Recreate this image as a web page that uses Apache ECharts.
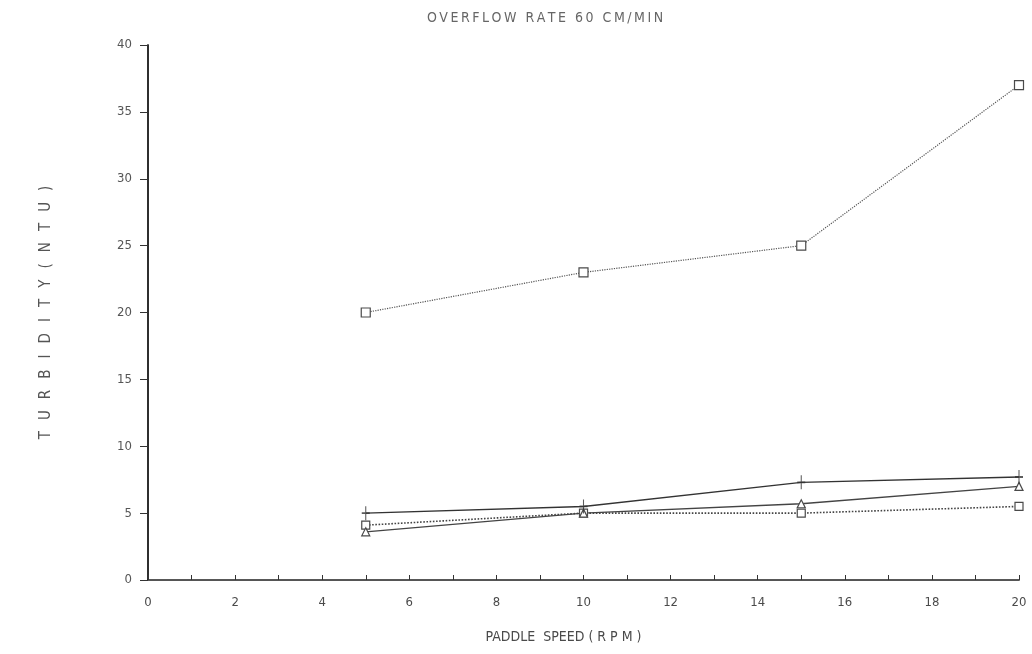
<!DOCTYPE html>
<html>
<head>
<meta charset="utf-8">
<script src="https://cdn.jsdelivr.net/npm/echarts@6/dist/echarts.min.js"></script>
<style>
  html, body { margin: 0; padding: 0; background: #fff; }
  #chart { width: 1032px; height: 654px; }
</style>
</head>
<body>
<div id="chart"></div>
<script>
// Paddle speed (rpm) at which turbidity was measured
const paddleSpeed = [5, 10, 15, 20];

// Turbidity (NTU) for each run
const runSquare   = [20, 23, 25, 37];
const runPlus     = [5.0, 5.5, 7.3, 7.7];
const runDiamond  = [4.1, 5.0, 5.0, 5.5];
const runTriangle = [3.6, 5.0, 5.7, 7.0];

const yTicks = [0, 5, 10, 15, 20, 25, 30, 35, 40];
const xLabelStep = 2;

const titleText = 'OVERFLOW RATE 60 CM/MIN';
const xName = 'PADDLE  SPEED ( R P M )';
const yName = 'TURBIDITY(NTU)';

const ink = '#4a4a4a';
const font = "'Liberation Sans Narrow', 'DejaVu Sans Condensed', 'Liberation Sans', sans-serif";

// Spread letters apart in the plotter's wide lettering style
function spaced(s, gap) { return s.split('').join(gap); }

function pairs(ys) { return paddleSpeed.map((x, i) => [x, ys[i]]); }

function lineSeries(name, ys, symbol, size, lineType, width, color) {
  return {
    name, type: 'line', data: pairs(ys),
    symbol, symbolSize: size, showSymbol: true,
    itemStyle: { color: '#fff', borderColor: ink, borderWidth: 1.2 },
    lineStyle: { color: color, width: width, type: lineType },
    z: 3
  };
}

const chart = echarts.init(document.getElementById('chart'), null, { renderer: 'canvas' });
chart.setOption({
  animation: false,
  backgroundColor: '#fff',
  title: {
    text: spaced(titleText, '\u2009'), left: 540, top: 6, textAlign: 'center',
    textStyle: { fontFamily: font, fontSize: 14, fontWeight: 'normal', color: '#666' }
  },
  grid: { left: 148, right: 13, top: 45, bottom: 74, containLabel: false },
  xAxis: [{
    type: 'value', min: 0, max: 20, interval: 1,
    name: xName, nameLocation: 'middle', nameGap: 50,
    nameTextStyle: { fontFamily: font, fontSize: 14, color: ink, padding: [0, 40, 0, 0] },
    axisLine: { show: true, onZero: false, lineStyle: { color: '#222', width: 1.5 } },
    axisTick: { show: true, inside: true, length: 5, lineStyle: { color: '#333' } },
    axisLabel: {
      fontFamily: font, fontSize: 13, color: ink, margin: 16,
      formatter: v => (v % xLabelStep === 0 ? String(v) : '')
    },
    splitLine: { show: false }
  }, {
    type: 'value', position: 'top', min: 0, max: 20,
    axisLine: { show: true, lineStyle: { color: '#555', width: 1, type: 'dotted' } },
    axisTick: { show: false }, axisLabel: { show: false }, splitLine: { show: false }
  }],
  yAxis: [{
    type: 'value', min: yTicks[0], max: yTicks[yTicks.length - 1], interval: 5,
    name: spaced(yName, '\u2002 '), nameLocation: 'middle', nameGap: 94, nameRotate: 90,
    nameTextStyle: { fontFamily: font, fontSize: 15, color: '#555' },
    axisLine: { show: true, onZero: false, lineStyle: { color: '#222', width: 1.5 } },
    axisTick: { show: true, length: 8, lineStyle: { color: '#333' } },
    axisLabel: { fontFamily: font, fontSize: 13, color: '#555', margin: 16 },
    splitLine: { show: false }
  }, {
    type: 'value', position: 'right', min: 0, max: 40,
    axisLine: { show: true, lineStyle: { color: '#222', width: 1.5 } },
    axisTick: { show: false }, axisLabel: { show: false }, splitLine: { show: false }
  }],
  series: [
    lineSeries('square', runSquare, 'rect', 9, 'dotted', 1.2, '#555'),
    lineSeries('plus', runPlus, 'none', 0, 'solid', 1.4, '#333'),
    {
      name: 'plus-marks', type: 'scatter', data: pairs(runPlus),
      symbol: 'path://M5 0 L5 10 M0 5 L10 5', symbolSize: [8, 14],
      itemStyle: { color: 'none', borderColor: '#333', borderWidth: 1.4 }, z: 4
    },
    lineSeries('diamond', runDiamond, 'rect', 8, 'dotted', 1.6, '#444'),
    lineSeries('triangle', runTriangle, 'triangle', 8, 'solid', 1.3, '#444')
  ]
});
</script>
</body>
</html>
